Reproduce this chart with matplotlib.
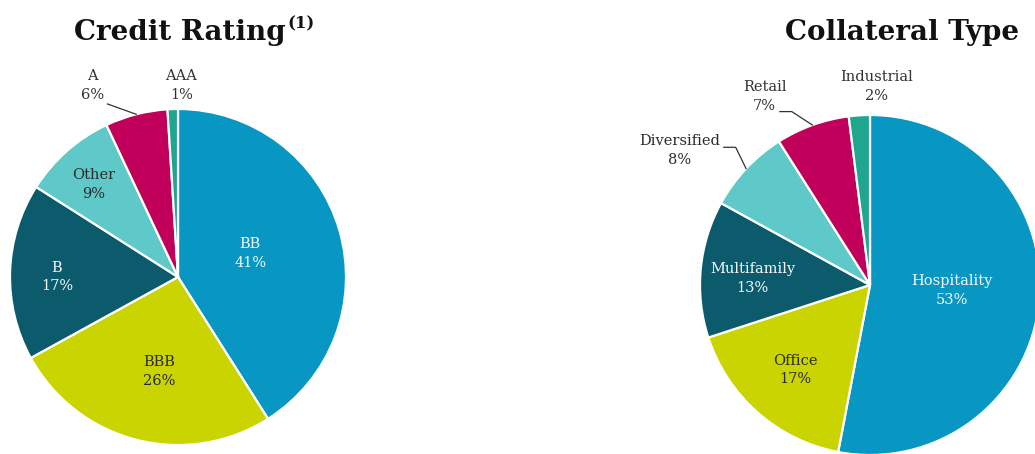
import numpy as np
import matplotlib
matplotlib.use("Agg")
import matplotlib.pyplot as plt

plt.rcParams["font.family"] = ["DejaVu Serif"]

# credit rating split (percent of portfolio), clockwise from 12 o'clock
rating_names = ["BB", "BBB", "B", "Other", "A", "AAA"]
rating_pct = [41, 26, 17, 9, 6, 1]

# collateral type split (percent of portfolio), clockwise from 12 o'clock
collat_names = ["Hospitality", "Office", "Multifamily", "Diversified", "Retail", "Industrial"]
collat_pct = [53, 17, 13, 8, 7, 2]

colors = ["#0797c2", "#c9d400", "#0b5b6c", "#5fc8c8", "#c1005b", "#1fa68e"]
txt_colors = ["#f4f8fa", "#2a2a2a", "#f4f8fa", "#2a2a2a", "#333333", "#333333"]

W, H = 1035, 454
fig = plt.figure(figsize=(W / 100, H / 100), dpi=100)


def pie_axes(cx, cy, r):
    # axes in pixel terms, data units = pie radius
    ax = fig.add_axes([(cx - r) / W, (H - cy - r) / H, 2 * r / W, 2 * r / H])
    ax.set_aspect("equal")
    ax.axis("off")
    return ax


def draw_pie(ax, names, pct, label_xy, leaders):
    wedges, _ = ax.pie(pct, colors=colors, startangle=90, counterclock=False,
                       radius=1.0, wedgeprops=dict(edgecolor="white", linewidth=1.6))
    ax.set_xlim(-1, 1)
    ax.set_ylim(-1, 1)
    for i, (w, name, p) in enumerate(zip(wedges, names, pct)):
        x, y = label_xy[i]
        ax.text(x, y, f"{name}\n{p}%", ha="center", va="center", fontsize=10.5,
                color=txt_colors[i], linespacing=1.45, clip_on=False)
        if i in leaders:
            mid = np.deg2rad((w.theta1 + w.theta2) / 2)
            pts = leaders[i] + [(np.cos(mid), np.sin(mid))]
            xs, ys = zip(*pts)
            ax.plot(xs, ys, color="#333333", lw=0.9, clip_on=False)


# left pie: Credit Rating
axl = pie_axes(178, 277, 168)
draw_pie(axl, rating_names, rating_pct,
         [(0.43, 0.14), (-0.11, -0.565), (-0.72, 0.0), (-0.5, 0.55), (-0.51, 1.14), (0.02, 1.14)],
         {4: [(-0.42, 1.03)]})

# right pie: Collateral Type
axr = pie_axes(870, 285, 170)
draw_pie(axr, collat_names, collat_pct,
         [(0.48, -0.03), (-0.44, -0.5), (-0.69, 0.04), (-1.12, 0.79), (-0.62, 1.11), (0.04, 1.17)],
         {3: [(-0.86, 0.81), (-0.79, 0.81)], 4: [(-0.53, 1.02), (-0.46, 1.02)]})

t1 = fig.text(180 / W, 1 - 32 / H, "Credit Rating", ha="center", va="center",
              fontsize=20, fontweight="bold", color="#111111")
axl.annotate("(1)", xy=(1, 0.5), xycoords=t1, xytext=(1, 0), textcoords="offset points",
             ha="left", va="bottom", fontsize=12, fontweight="bold", color="#111111",
             annotation_clip=False)
fig.text(902 / W, 1 - 32 / H, "Collateral Type", ha="center", va="center",
         fontsize=20, fontweight="bold", color="#111111")

fig.savefig("out.png", dpi=100)
